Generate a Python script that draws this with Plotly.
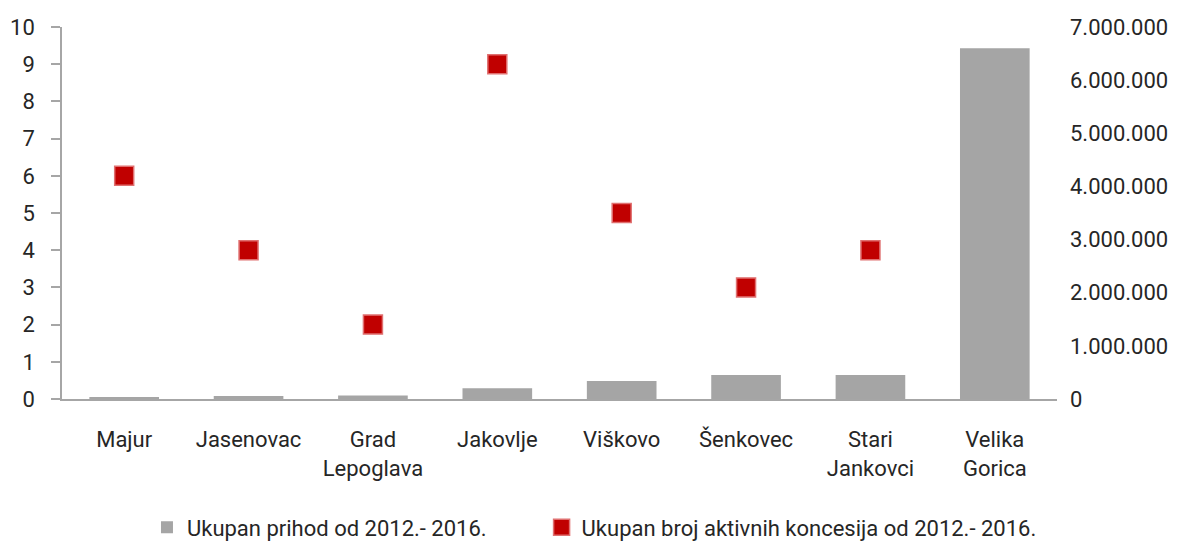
import plotly.graph_objects as go

categories = ["Majur", "Jasenovac", "Grad<br>Lepoglava", "Jakovlje", "Viškovo",
              "Šenkovec", "Stari<br>Jankovci", "Velika<br>Gorica"]
prihod = [25000, 55000, 65000, 200000, 340000, 450000, 450000, 6600000]
koncesije = [6, 4, 2, 9, 5, 3, 4, 3]
left_ticks = list(range(0, 11))
right_tickvals = [0, 1000000, 2000000, 3000000, 4000000, 5000000, 6000000, 7000000]
right_ticktext = ["0", "1.000.000", "2.000.000", "3.000.000", "4.000.000",
                  "5.000.000", "6.000.000", "7.000.000"]

FONT = "Roboto"
TXT = "#262626"
AX = "#A6A6A6"
FS = 22

fig = go.Figure()
fig.add_trace(go.Bar(
    x=categories, y=prihod, yaxis="y2",
    name="Ukupan prihod od 2012.- 2016.",
    marker=dict(color="#A5A5A5", line=dict(width=0)),
    legend="legend",
))
fig.add_trace(go.Scatter(
    x=categories, y=koncesije, mode="markers",
    name="Ukupan broj aktivnih koncesija od 2012.- 2016.",
    marker=dict(symbol="square", size=19, color="#C00000",
                line=dict(color="#E07070", width=1.5)),
    legend="legend2",
))

leg_common = dict(orientation="h", xanchor="left", y=-0.345, yanchor="middle",
                  font=dict(family=FONT, size=FS, color=TXT), itemwidth=30,
                  bgcolor="rgba(0,0,0,0)")

fig.update_layout(
    width=1181, height=537,
    margin=dict(l=54, r=132, t=19, b=146, autoexpand=False),
    paper_bgcolor="white", plot_bgcolor="white",
    font=dict(family=FONT, size=FS, color=TXT),
    bargap=0.44,
    showlegend=True,
    legend=dict(x=0.0854, **leg_common),
    legend2=dict(x=0.482, **leg_common),
    xaxis=dict(showline=True, linecolor=AX, linewidth=1.5, ticks="", showgrid=False,
               automargin=False, ticklabelstandoff=20,
               tickfont=dict(family=FONT, size=FS, color=TXT), zeroline=False),
    yaxis=dict(range=[0, 10], tickvals=left_ticks, showline=True, linecolor=AX, linewidth=1.5,
               ticks="outside", ticklen=9, tickcolor=AX, tickwidth=1.5,
               showgrid=False, zeroline=False, automargin=False, ticklabelstandoff=12,
               tickfont=dict(family=FONT, size=FS, color=TXT)),
    yaxis2=dict(range=[0, 7000000], overlaying="y", side="right",
                tickvals=right_tickvals, ticktext=right_ticktext,
                showline=False, showgrid=False, zeroline=False, ticks="",
                automargin=False, ticklabelstandoff=12,
                tickfont=dict(family=FONT, size=FS, color=TXT)),
)

fig.write_html("out.html")
